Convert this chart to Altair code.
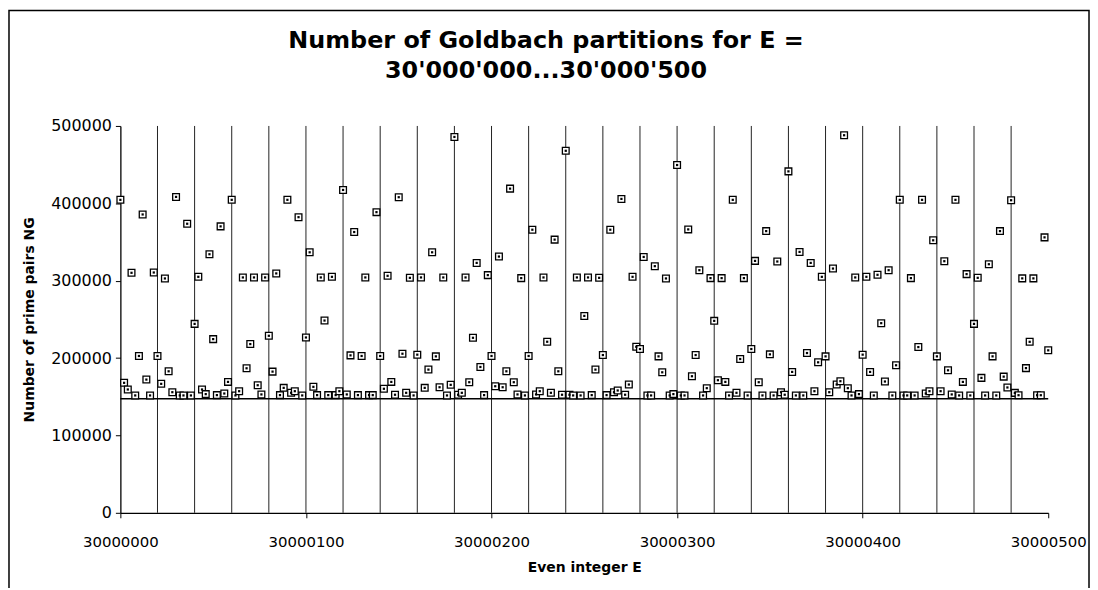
import altair as alt
import pandas as pd

# ---- data ----
E_START = 30000000
E_STEP = 2
ng = [
    404500, 168000, 159400, 310200, 151700, 202700, 385600, 172200, 151700, 310600,  # 0-18
    202700, 166700, 302900, 182900, 155900, 408300, 151700, 151700, 373600, 151700,  # 20-38
    244200, 305000, 159400, 153400, 334200, 224500, 152100, 370200, 154200, 169200,  # 40-58
    404500, 151700, 157200, 304200, 186800, 218100, 304200, 164900, 153000, 304200,  # 60-78
    228800, 182500, 309400, 152100, 161500, 404500, 155100, 157200, 382100, 151700,  # 80-98
    226600, 336700, 162800, 152100, 304200, 248500, 152100, 305000, 152100, 157200,  # 100-118
    417300, 153000, 203500, 362900, 152100, 202700, 304200, 152100, 152100, 388600,  # 120-138
    202700, 160300, 306300, 169200, 152600, 407900, 205600, 155100, 303700, 151700,  # 140-158
    204400, 304200, 161500, 185100, 336700, 202200, 162300, 304200, 151700, 165400,  # 160-178
    485800, 152600, 155100, 304200, 168800, 226200, 323000, 188500, 152100, 307200,  # 180-198
    202700, 163600, 331200, 162300, 182900, 419000, 168800, 153000, 303300, 151700,  # 200-218
    202700, 365900, 153000, 157200, 304200, 221100, 155100, 353100, 182900, 152600,  # 220-238
    467900, 152600, 151700, 304200, 151700, 254500, 304200, 152100, 185100, 303700,  # 240-258
    203900, 152100, 365900, 155900, 158100, 405700, 152600, 165800, 305000, 214600,  # 260-278
    211700, 330700, 151700, 151700, 318800, 202200, 181600, 302900, 151700, 153400,  # 280-298
    449500, 151700, 151700, 366300, 176500, 203900, 313600, 151700, 161100, 303300,  # 300-318
    248100, 171400, 303300, 169200, 151700, 404500, 155100, 198800, 303300, 151700,  # 320-338
    211700, 325600, 168800, 151700, 364100, 204800, 151700, 324800, 155900, 152600,  # 340-358
    441300, 182100, 151700, 337200, 151700, 206500, 323000, 157200, 194500, 305000,  # 360-378
    202200, 155900, 315700, 165800, 170100, 488000, 161100, 151700, 304200, 153400,  # 380-398
    204400, 305000, 182100, 151700, 307600, 245100, 169700, 313600, 151700, 190700,  # 400-418
    404500, 151700, 151700, 303300, 151700, 214200, 404500, 154200, 157200, 352200,  # 420-438
    202200, 157200, 325200, 184200, 153000, 404500, 151700, 169200, 308500, 151700,  # 440-458
    244200, 303700, 174400, 151700, 321300, 202200, 151700, 364100, 176000, 162000,  # 460-478
    404000, 155000, 152000, 303000, 187000, 221000, 303000, 152000, 152000, 356000,  # 480-498
    210000,                                                                          # 500
]
E = [E_START + E_STEP * i for i in range(len(ng))]

x_label_ticks = [30000000, 30000100, 30000200, 30000300, 30000400, 30000500]
x_grid = [30000020 + 20 * k for k in range(24)]
y_ticks = [0, 100000, 200000, 300000, 400000, 500000]
lower_line = [147400]

title_lines = ["Number of Goldbach partitions for E =", "30'000'000...30'000'500"]
x_title = "Even integer E"
y_title = "Number of prime pairs NG"

# ---- chart ----
W, H = 933, 389
PAD_L, PAD_T, PAD_R, PAD_B = 113, 117, 42, 74
FONT = "DejaVu Sans"

xs = alt.Scale(domain=[30000000, 30000500], nice=False, zero=False)
ys = alt.Scale(domain=[0, 500000], nice=False)

x_axis = alt.Axis(
    values=x_label_ticks, format="d", title=x_title, grid=False, labelFlush=False,
    tickSize=5, labelPadding=17, titlePadding=11, labelFontSize=15,
)
y_axis = alt.Axis(
    values=y_ticks, format="d", title=y_title, grid=False, labelFlush=False,
    tickSize=5, labelPadding=4, titlePadding=14,
)

pts = pd.DataFrame({"E": E, "NG": ng})

grid = alt.Chart(pd.DataFrame({"E": x_grid})).mark_rule(
    color="#222", strokeWidth=1
).encode(x=alt.X("E:Q", scale=xs, axis=x_axis))

hline = alt.Chart(pd.DataFrame({"NG": lower_line})).mark_rule(
    color="black", strokeWidth=1.3
).encode(y=alt.Y("NG:Q", scale=ys, axis=y_axis))

boxes = alt.Chart(pts).mark_square(
    size=46, filled=True, fill="white", stroke="black", strokeWidth=1.3, opacity=1
).encode(
    x=alt.X("E:Q", scale=xs, axis=x_axis),
    y=alt.Y("NG:Q", scale=ys, axis=y_axis),
)

dots = alt.Chart(pts).mark_square(size=5, color="black", opacity=1).encode(
    x=alt.X("E:Q", scale=xs, axis=x_axis),
    y=alt.Y("NG:Q", scale=ys, axis=y_axis),
)

border = alt.Chart(pd.DataFrame({"a": [0]})).mark_rect(
    fill="white", fillOpacity=0, stroke="black", strokeWidth=1.5
).encode(
    x=alt.value(-PAD_L + 1),
    x2=alt.value(W + PAD_R - 1),
    y=alt.value(-PAD_T + 1),
    y2=alt.value(H + 200),
)

TITLE_CX = 549 - (8 + PAD_L)
title1 = alt.Chart(pd.DataFrame({"t": [title_lines[0]]})).mark_text(
    font=FONT, fontSize=24, fontWeight="bold", color="black", align="center", baseline="middle"
).encode(text="t:N", x=alt.value(TITLE_CX), y=alt.value(40 - 125))
title2 = alt.Chart(pd.DataFrame({"t": [title_lines[1]]})).mark_text(
    font=FONT, fontSize=24, fontWeight="bold", color="black", align="center", baseline="middle"
).encode(text="t:N", x=alt.value(TITLE_CX), y=alt.value(70 - 125))

chart = alt.layer(grid, hline, boxes, dots, border, title1, title2).properties(
    width=W,
    height=H,
    autosize=alt.AutoSizeParams(type="none"),
    padding={"left": PAD_L, "top": PAD_T, "right": PAD_R, "bottom": PAD_B},
).configure_view(stroke=None).configure_axis(
    domainColor="black", tickColor="black", labelColor="black", titleColor="black",
    labelFont=FONT, labelFontSize=16, titleFont=FONT, titleFontSize=14,
    titleFontWeight="bold", domainWidth=1.3,
)

chart.save("out.html", embed_options={"renderer": "svg", "actions": False})
